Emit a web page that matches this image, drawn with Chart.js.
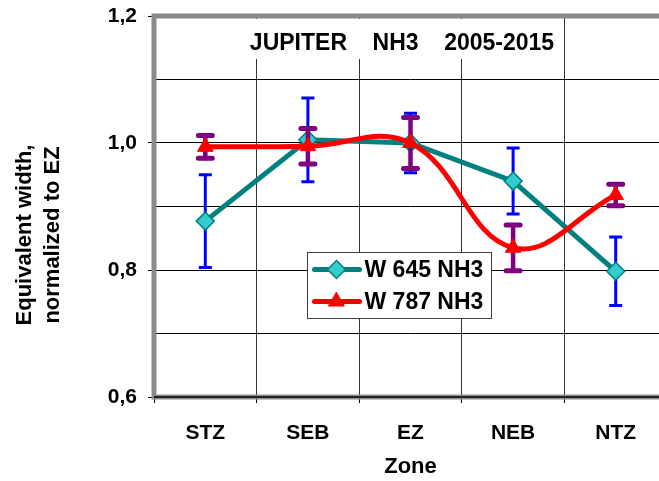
<!DOCTYPE html>
<html>
<head>
<meta charset="utf-8">
<script src="https://cdn.jsdelivr.net/npm/chart.js@4"></script>
<style>
  html, body { margin: 0; padding: 0; background: #fff; overflow: hidden; width: 659px; height: 481px; }
  #wrap { position: relative; width: 667px; height: 481px; }
</style>
</head>
<body>
<div id="wrap"><canvas id="c" width="667" height="481"></canvas></div>
<script>
// NH3 equivalent widths per Jupiter zone, normalized to EZ
const zones = ["STZ", "SEB", "EZ", "NEB", "NTZ"];
const w645 = [0.877, 1.005, 1.0, 0.94, 0.798];
const w645Err = [0.073, 0.066, 0.047, 0.052, 0.054];
const w787 = [0.994, 0.995, 1.0, 0.835, 0.918];
const w787Err = [0.018, 0.028, 0.04, 0.036, 0.017];
const yTicks = [0.6, 0.8, 1.0, 1.2];

const FONT = "'Liberation Sans', Arial, sans-serif";
const TEAL = "#008080", AQUA = "#33CCCC", RED = "#FF0000";
const ERR_STYLE = [
  { color: "#0000FF", width: 3, cap: 13, capW: 3 },
  { color: "#800080", width: 4.5, cap: 14, capW: 5 },
];
const errs = [w645Err, w787Err];

const fmt = (v) => v.toFixed(1).replace(".", ",");
const isMajor = (v) => yTicks.some((t) => Math.abs(t - v) < 1e-6);

// error bars, title box, borders, legend and y title
const decor = {
  id: "decor",
  beforeDatasetsDraw(chart) {
    const { ctx, chartArea: a } = chart;
    ctx.save();
    // title sits on a white patch over the grid
    ctx.fillStyle = "#fff";
    ctx.fillRect(a.left + 91, a.top + 3, 313, 40);
    ctx.fillStyle = "#000";
    ctx.font = "bold 23px " + FONT;
    ctx.textAlign = "center";
    ctx.textBaseline = "middle";
    ctx.fillText("JUPITER    NH3    2005-2015", a.left + 248, a.top + 28);
    // plot frame
    ctx.strokeStyle = "#8a8a8a";
    ctx.lineWidth = 5;
    ctx.strokeRect(a.left, a.top, a.right - a.left + 10, a.bottom - a.top);
    ctx.strokeStyle = "#000";
    ctx.lineWidth = 1.5;
    ctx.beginPath();
    ctx.moveTo(a.left, a.bottom);
    ctx.lineTo(a.right + 10, a.bottom);
    ctx.stroke();
    ctx.restore();
  },
  beforeDatasetDraw(chart, args) {
    const { ctx } = chart;
    const i = args.index;
    const st = ERR_STYLE[i];
    const x = chart.scales.x, y = chart.scales.y;
    const vals = chart.data.datasets[i].data;
    ctx.save();
    ctx.strokeStyle = st.color;
    ctx.lineCap = i === 1 ? "round" : "butt";
    vals.forEach((v, k) => {
      const px = x.getPixelForValue(k);
      const top = y.getPixelForValue(v + errs[i][k]);
      const bot = y.getPixelForValue(v - errs[i][k]);
      ctx.lineWidth = st.width;
      ctx.beginPath();
      ctx.moveTo(px, top);
      ctx.lineTo(px, bot);
      ctx.stroke();
      ctx.lineWidth = st.capW;
      ctx.beginPath();
      ctx.moveTo(px - st.cap / 2, top);
      ctx.lineTo(px + st.cap / 2, top);
      ctx.moveTo(px - st.cap / 2, bot);
      ctx.lineTo(px + st.cap / 2, bot);
      ctx.stroke();
    });
    ctx.restore();
  },
  afterDraw(chart) {
    const { ctx, chartArea: a } = chart;
    ctx.save();
    // legend box
    const lx = a.left + 153.5, ly = a.top + 236.5;
    ctx.fillStyle = "#fff";
    ctx.fillRect(lx, ly, 184, 66);
    ctx.strokeStyle = "#404040";
    ctx.lineWidth = 1;
    ctx.strokeRect(lx, ly, 184, 66);
    chart.data.datasets.forEach((ds, i) => {
      const cy = ly + 17 + i * 32;
      ctx.strokeStyle = ds.borderColor;
      ctx.lineWidth = 5;
      ctx.lineCap = "round";
      ctx.beginPath();
      ctx.moveTo(lx + 7, cy);
      ctx.lineTo(lx + 52, cy);
      ctx.stroke();
      ctx.fillStyle = ds.pointBackgroundColor;
      ctx.strokeStyle = ds.pointBorderColor;
      ctx.lineWidth = ds.pointBorderWidth;
      Chart.helpers.drawPoint(ctx, { pointStyle: ds.pointStyle, radius: ds.pointRadius, borderWidth: ds.pointBorderWidth, rotation: 0 }, lx + 29, cy);
      ctx.fillStyle = "#000";
      ctx.font = "bold 23px " + FONT;
      ctx.textAlign = "left";
      ctx.textBaseline = "middle";
      ctx.fillText(ds.label, lx + 57, cy + 1);
    });
    // y axis title, two lines
    ctx.translate(39, 235);
    ctx.rotate(-Math.PI / 2);
    ctx.fillStyle = "#000";
    ctx.font = "bold 22px " + FONT;
    ctx.textAlign = "center";
    ctx.textBaseline = "middle";
    ctx.fillText("Equivalent width,", 0, -14);
    ctx.fillText("normalized to EZ", 0, 14);
    ctx.restore();
  },
};

new Chart(document.getElementById("c"), {
  type: "line",
  data: {
    labels: zones,
    datasets: [
      {
        label: "W 645 NH3",
        data: w645,
        borderColor: TEAL,
        borderWidth: 5,
        tension: 0,
        pointStyle: "rectRot",
        pointRadius: 9,
        pointBackgroundColor: AQUA,
        pointBorderColor: TEAL,
        pointBorderWidth: 1.5,
        order: 1,
      },
      {
        label: "W 787 NH3",
        data: w787,
        borderColor: RED,
        borderWidth: 5,
        tension: 0.4,
        pointStyle: "triangle",
        pointRadius: 9,
        pointBackgroundColor: RED,
        pointBorderColor: RED,
        pointBorderWidth: 1,
        order: 0,
      },
    ],
  },
  options: {
    responsive: false,
    animation: false,
    events: [],
    layout: { autoPadding: false, padding: { top: 16, left: 0, right: 0, bottom: 0 } },
    plugins: { legend: { display: false }, tooltip: { enabled: false } },
    scales: {
      x: {
        offset: true,
        grid: { offset: true, color: "#333", lineWidth: 1, tickLength: 6, tickColor: "#000" },
        border: { display: false },
        ticks: { color: "#000", font: { family: FONT, weight: "bold", size: 21 }, padding: 18, maxRotation: 0 },
        title: { display: true, text: "Zone", color: "#000", font: { family: FONT, weight: "bold", size: 22 }, padding: { top: 9, bottom: 1 } },
        afterFit: (s) => { s.height = 84; s.paddingLeft = 0; s.paddingRight = 0; },
      },
      y: {
        min: 0.6,
        max: 1.2,
        grid: {
          color: "#000",
          lineWidth: 1,
          tickLength: 6,
          tickColor: (c) => (c.tick && isMajor(c.tick.value) ? "#000" : "rgba(0,0,0,0)"),
        },
        border: { display: false },
        ticks: {
          stepSize: 0.1,
          color: "#000",
          padding: 11,
          font: { family: FONT, weight: "bold", size: 21 },
          callback: (v) => (isMajor(v) ? fmt(v) : ""),
        },
        afterFit: (s) => { s.width = 154; s.paddingTop = 0; s.paddingBottom = 0; },
      },
    },
  },
  plugins: [decor],
});
</script>
</body>
</html>
